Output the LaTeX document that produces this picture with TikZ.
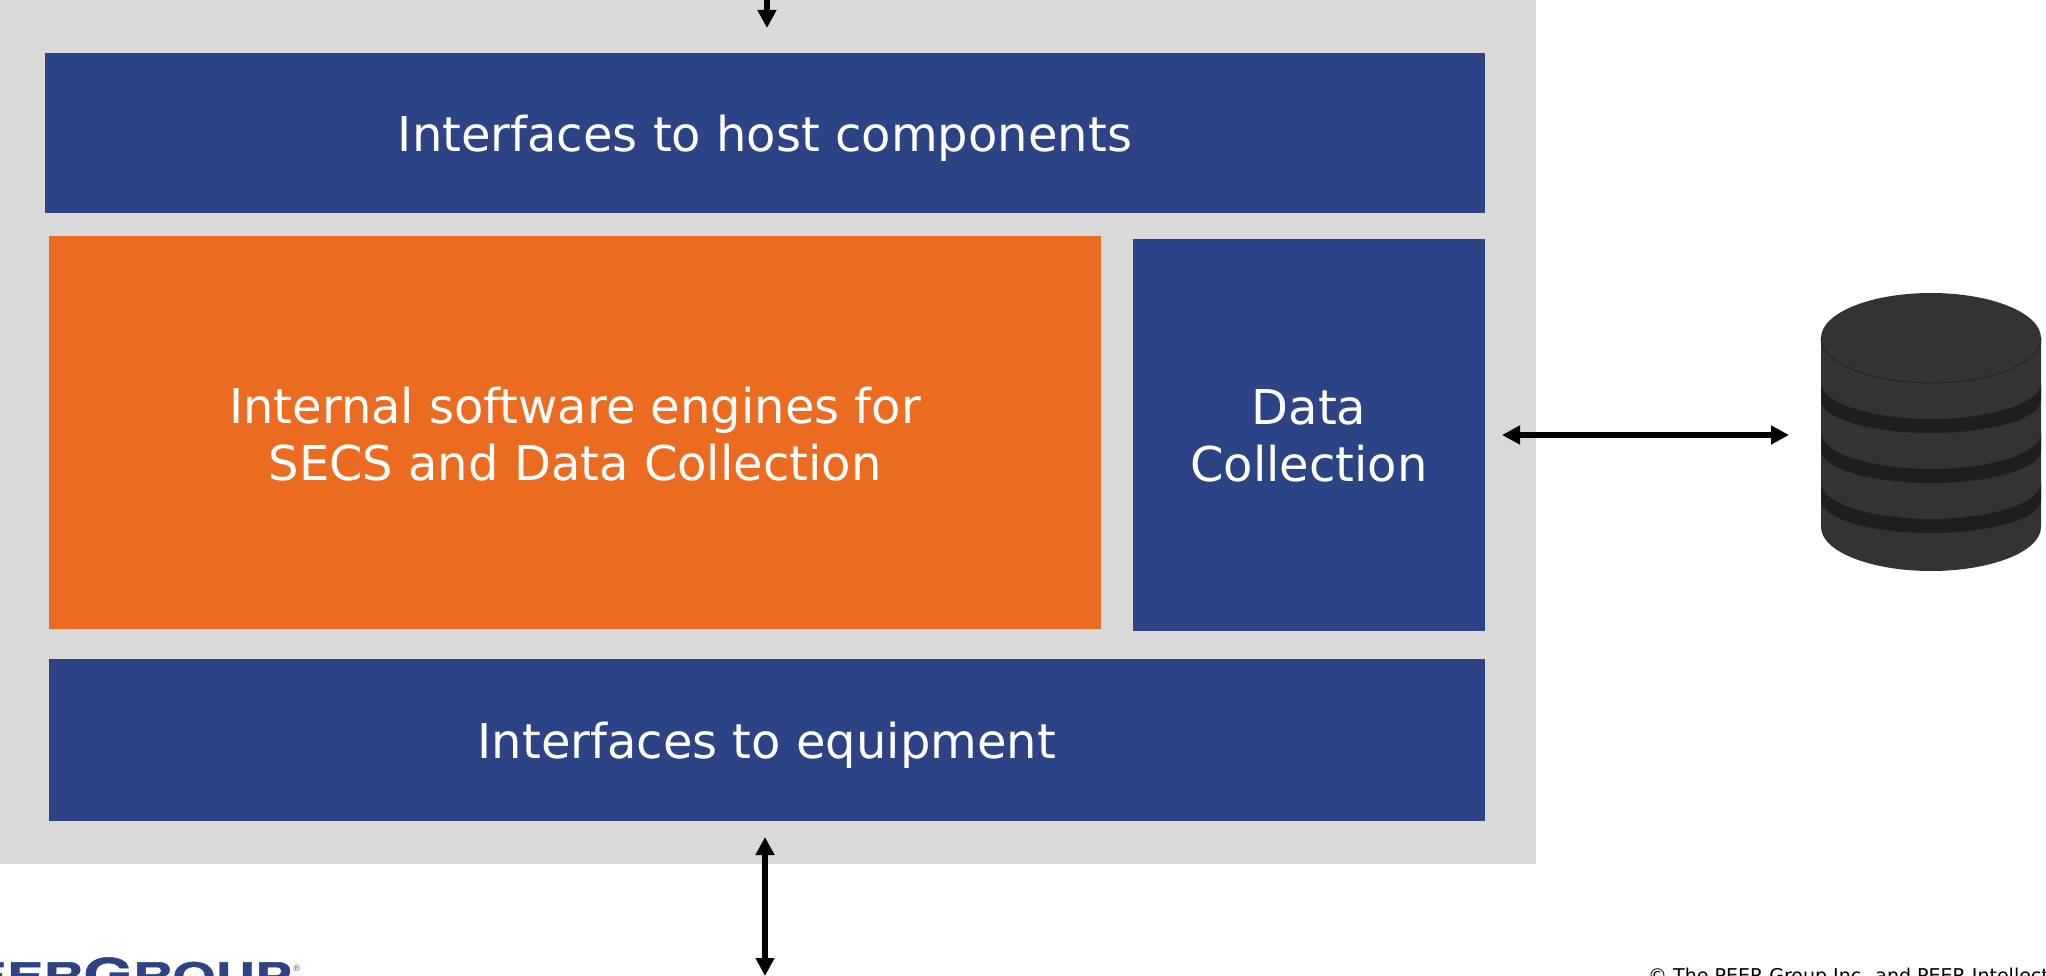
\documentclass[tikz,border=0pt]{standalone}
\usepackage{fontspec}
\setmainfont{DejaVu Sans}
\newfontfamily\logofont[FakeStretch=1.45,FakeBold=1.2]{TeX Gyre Heros Bold}
\usetikzlibrary{arrows.meta}
\definecolor{panelgray}{RGB}{217,217,217}
\definecolor{peerblue}{RGB}{44,67,133}
\definecolor{peerorange}{RGB}{235,108,32}
\definecolor{cyldark}{RGB}{51,51,51}
\definecolor{cylband}{RGB}{30,30,30}
\tikzset{
  block/.style={draw=none,fill=#1,inner sep=0pt},
  blocktext/.style={text=white,inner sep=0pt,align=center,font=\fontsize{48}{57.5}\selectfont},
  biarrow/.style={draw=black,line width=6.5pt,{Triangle[length=18pt,width=18pt]}-{Triangle[length=18pt,width=18pt]}},
  downarrow/.style={draw=black,line width=6.5pt,-{Triangle[length=18pt,width=18pt]}}
}
\begin{document}
\begin{tikzpicture}[x=1pt,y=-1pt]
\useasboundingbox (0,0) rectangle (2046,976);
\clip (0,0) rectangle (2046,976);
\fill[panelgray] (0,0) rectangle (1536,864);
\node[block=peerblue,minimum width=1440pt,minimum height=160pt] (host) at (765,133) {};
\node[blocktext] (hostlabel) at (765,138) {Interfaces to host components};
\node[block=peerorange,minimum width=1052pt,minimum height=393pt] (engine) at (575,432.5) {};
\node[blocktext] (enginelabel) at (575,434) {Internal software engines for\\SECS and Data Collection};
\node[block=peerblue,minimum width=352pt,minimum height=392pt] (data) at (1309,435) {};
\node[blocktext] (datalabel) at (1309,436) {Data\\Collection};
\node[block=peerblue,minimum width=1436pt,minimum height=162pt] (equip) at (767,740) {};
\node[blocktext] (equiplabel) at (767,745) {Interfaces to equipment};
% database cylinder
\fill[cyldark] (1821,338) arc[start angle=180,end angle=0,x radius=110pt,y radius=45pt] -- (2041,527) arc[start angle=0,end angle=-180,x radius=110pt,y radius=44pt] -- cycle;
\draw[cylband,line width=0.7pt] (1821,338) arc[start angle=180,end angle=360,x radius=110pt,y radius=45pt];
\foreach \yy in {383,433,483}{
  \fill[cylband] (1821,\yy) arc[start angle=180,end angle=360,x radius=110pt,y radius=36pt] -- ++(0,17) arc[start angle=0,end angle=-180,x radius=110pt,y radius=33pt] -- cycle;
}
\coordinate (dbport) at (1789,435);
\coordinate (dataport) at (1502,435);
\draw[biarrow] (dataport) -- (dbport);
\coordinate (busin) at (767,-2);
\coordinate (busintip) at (767,28);
\draw[downarrow] (busin) -- (busintip);
\coordinate (busouttop) at (765,837);
\coordinate (busoutbot) at (765,976);
\draw[biarrow] (busouttop) -- (busoutbot);
% logo and copyright
\node[anchor=base east,inner sep=0pt,text=peerblue,font=\logofont\fontsize{38}{38}\selectfont] (logo) at (292,990) {PEER\fontsize{44}{44}\selectfont G\fontsize{38}{38}\selectfont ROUP};
\node[anchor=base west,inner sep=0pt,text=peerblue!40!gray,font=\fontsize{9}{9}\selectfont] (reg) at (292,971) {®};
\node[anchor=base west,inner sep=0pt,text=black,font=\fontsize{19}{19}\selectfont] (copy) at (1648,982) {© The PEER Group Inc. and PEER Intellectual Property};
\end{tikzpicture}
\end{document}
